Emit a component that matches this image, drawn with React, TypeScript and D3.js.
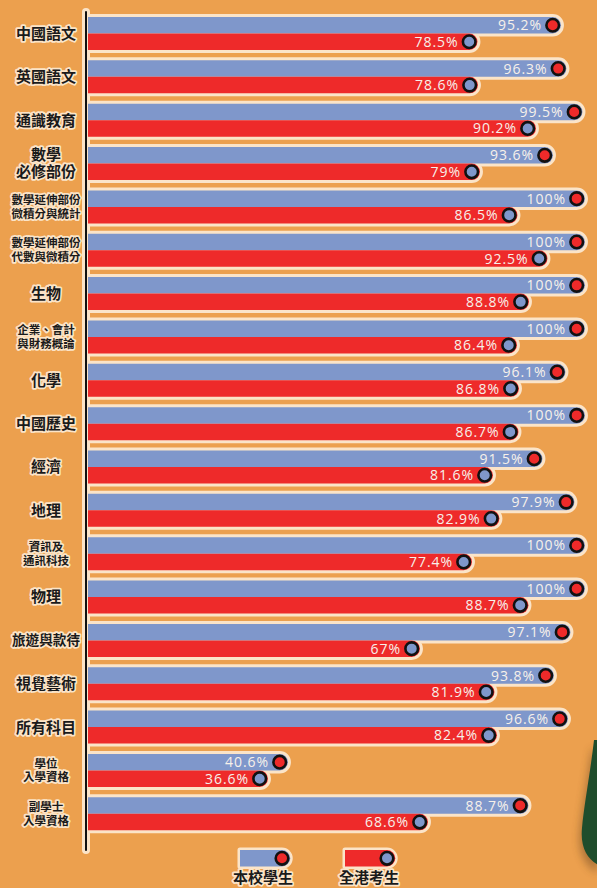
import React, { useRef, useEffect } from "react";
import * as d3 from "d3";

// subjects, "|" marks a line break in the label
const subjects = [
	"中國語文",
	"英國語文",
	"通識教育",
	"數學|必修部份",
	"數學延伸部份|微積分與統計",
	"數學延伸部份|代數與微積分",
	"生物",
	"企業、會計|與財務概論",
	"化學",
	"中國歷史",
	"經濟",
	"地理",
	"資訊及|通訊科技",
	"物理",
	"旅遊與款待",
	"視覺藝術",
	"所有科目",
	"學位|入學資格",
	"副學士|入學資格",
];

// 本校學生
const schoolValues = [
	95.2, 96.3, 99.5, 93.6, 100, 100, 100, 100, 96.1, 100, 91.5, 97.9, 100, 100,
	97.1, 93.8, 96.6, 40.6, 88.7,
];

// 全港考生
const hkValues = [
	78.5, 78.6, 90.2, 79, 86.5, 92.5, 88.8, 86.4, 86.8, 86.7, 81.6, 82.9, 77.4,
	88.7, 67, 81.9, 82.4, 36.6, 68.6,
];

const seriesNames = ["本校學生", "全港考生"];

const W = 597;
const H = 888;
const BG = "#eca04e";
const BLUE = "#7f97cb";
const RED = "#ee2a2a";
const HALO = "#fbe4c8";
const BAR_H = 16.5;

// bar with rounded right end, straight part ends at cx
const barPath = (x0: number, cx: number, y: number, h: number) => {
	const r = h / 2;
	return `M${x0},${y}H${cx}A${r},${r} 0 0 1 ${cx},${y + h}H${x0}Z`;
};

const Chart: React.FC = () => {
	const svgRef = useRef<SVGSVGElement | null>(null);

	useEffect(() => {
		const svg = d3.select(svgRef.current);
		svg.selectAll("*").remove();
		svg.attr("width", W).attr("height", H);

		svg.append("rect").attr("width", W).attr("height", H).attr("fill", BG);

		const defs = svg.append("defs");
		const f = defs.append("filter").attr("id", "shadow").attr("x", "-50%").attr("y", "-50%").attr("width", "200%").attr("height", "200%");
		f.append("feGaussianBlur").attr("stdDeviation", 4);

		// green decoration at the right edge
		svg
			.append("path")
			.attr("d", "M600,752 L594,742 C590,775 584,805 582,828 C580,848 588,862 600,868 Z")
			.attr("fill", "#5a3a1c")
			.attr("opacity", 0.45)
			.attr("transform", "translate(-2,5)")
			.attr("filter", "url(#shadow)");
		svg
			.append("path")
			.attr("d", "M600,740 L594,740 C590,775 584,805 582,828 C580,848 588,860 600,866 Z")
			.attr("fill", "#1f4d2c");

		const x0 = 88;
		const x = d3.scaleLinear().domain([0, 100]).range([76.7, 576.7]);
		const y = d3
			.scaleBand<string>()
			.domain(subjects)
			.range([17, 17 + subjects.length * 43.35])
			.padding(0);

		const rows = subjects.map((s, i) => ({
			s,
			school: schoolValues[i],
			hk: hkValues[i],
		}));

		// axis halo
		svg
			.append("line")
			.attr("x1", 86)
			.attr("x2", 86)
			.attr("y1", 12)
			.attr("y2", 850)
			.attr("stroke", HALO)
			.attr("stroke-width", 8)
			.attr("stroke-linecap", "round");

		const g = svg.append("g");

		// halos first
		rows.forEach((d) => {
			const yb = y(d.s)!;
			g.append("path")
				.attr("d", barPath(x0, x(d.school), yb, BAR_H))
				.attr("fill", HALO)
				.attr("stroke", HALO)
				.attr("stroke-width", 6)
				.attr("stroke-linejoin", "round");
			g.append("path")
				.attr("d", barPath(x0, x(d.hk), yb + BAR_H, BAR_H))
				.attr("fill", HALO)
				.attr("stroke", HALO)
				.attr("stroke-width", 6)
				.attr("stroke-linejoin", "round");
		});

		const valueText = (sel: d3.Selection<SVGGElement, unknown, null, undefined>, v: number, cx: number, cy: number) => {
			sel
				.append("text")
				.attr("x", cx - 10.5)
				.attr("y", cy)
				.attr("dy", "0.36em")
				.attr("text-anchor", "end")
				.attr("fill", "#f7f1ea")
				.attr("font-family", "'Open Sans', sans-serif")
				.attr("font-size", 14)
				.attr("letter-spacing", 1)
				.text(`${v}%`);
		};

		const dot = (sel: d3.Selection<SVGGElement, unknown, null, undefined>, cx: number, cy: number, fill: string) => {
			sel
				.append("circle")
				.attr("cx", cx)
				.attr("cy", cy)
				.attr("r", 6.3)
				.attr("fill", fill)
				.attr("stroke", "#111")
				.attr("stroke-width", 2.6);
		};

		rows.forEach((d) => {
			const yb = y(d.s)!;
			g.append("path").attr("d", barPath(x0, x(d.school), yb, BAR_H)).attr("fill", BLUE);
			g.append("path").attr("d", barPath(x0, x(d.hk), yb + BAR_H, BAR_H)).attr("fill", RED);
			dot(g, x(d.school), yb + BAR_H / 2, RED);
			dot(g, x(d.hk), yb + BAR_H * 1.5, BLUE);
			valueText(g, d.school, x(d.school), yb + BAR_H / 2);
			valueText(g, d.hk, x(d.hk), yb + BAR_H * 1.5);
		});

		// axis line
		svg
			.append("line")
			.attr("x1", 86)
			.attr("x2", 86)
			.attr("y1", 12)
			.attr("y2", 850)
			.attr("stroke", "#111")
			.attr("stroke-width", 2)
			.attr("stroke-linecap", "round");

		// category labels, one text per subject, tspans for the lines
		const labels = svg
			.append("g")
			.attr("font-family", "'Noto Sans CJK TC', sans-serif")
			.attr("font-weight", 700)
			.attr("fill", "#1a1a1a")
			.attr("stroke", HALO)
			.attr("stroke-width", 3.5)
			.attr("stroke-linejoin", "round")
			.attr("paint-order", "stroke")
			.attr("text-anchor", "middle");

		rows.forEach((d) => {
			const lines = d.s.split("|");
			const cy = y(d.s)! + BAR_H;
			const big = lines.length === 1 || d.s.startsWith("數學|");
			const size = big ? Math.min(15, 68 / lines[lines.length - 1].length) : 11.5;
			const gap = big ? 17 : 13.8;
			const text = labels.append("text").attr("font-size", size);
			lines.forEach((t, j) => {
				text
					.append("tspan")
					.attr("x", 46)
					.attr("y", cy + (j - (lines.length - 1) / 2) * gap)
					.attr("dy", "0.36em")
					.text(t);
			});
		});

		// legend
		const legend = svg.append("g");
		const items = [
			{ name: seriesNames[0], bar: BLUE, dot: RED, x: 240, tx: 263 },
			{ name: seriesNames[1], bar: RED, dot: BLUE, x: 345, tx: 369 },
		];
		items.forEach((it) => {
			const cx = it.x + 42;
			legend
				.append("path")
				.attr("d", barPath(it.x, cx, 850, 16.5))
				.attr("fill", it.bar)
				.attr("stroke", HALO)
				.attr("stroke-width", 5)
				.attr("paint-order", "stroke")
				.attr("stroke-linejoin", "round");
			dot(legend, cx, 858.3, it.dot);
			legend
				.append("text")
				.attr("x", it.tx)
				.attr("y", 878)
				.attr("dy", "0.36em")
				.attr("text-anchor", "middle")
				.attr("font-family", "'Noto Sans CJK TC', sans-serif")
				.attr("font-weight", 700)
				.attr("font-size", 15)
				.attr("fill", "#1a1a1a")
				.attr("stroke", HALO)
				.attr("stroke-width", 3.5)
				.attr("stroke-linejoin", "round")
				.attr("paint-order", "stroke")
				.text(it.name);
		});
	}, []);

	return <svg ref={svgRef} style={{ position: "absolute", left: 0, top: 0, display: "block" }}></svg>;
};

export default function App() {
	return <Chart />;
}
